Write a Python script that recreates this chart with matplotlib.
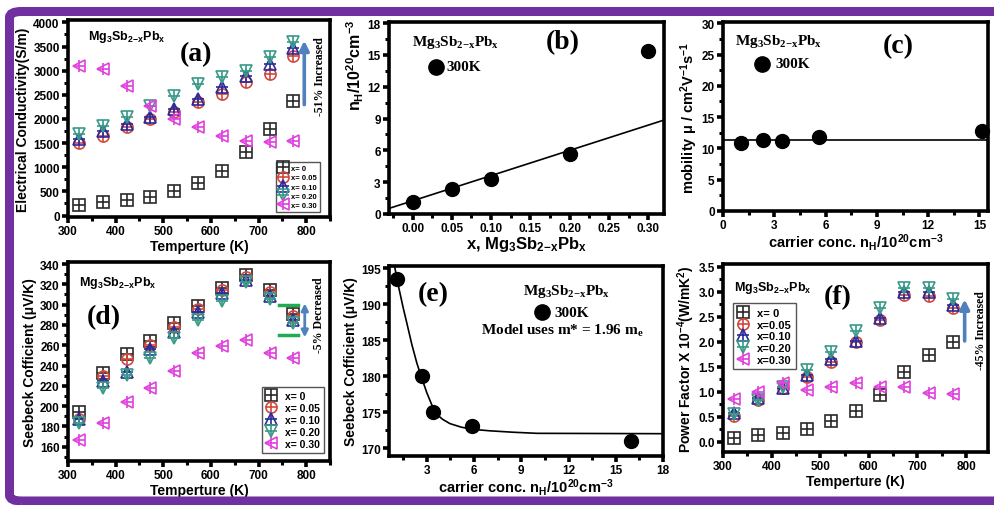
import numpy as np
import matplotlib
matplotlib.use("Agg")
import matplotlib.pyplot as plt
from matplotlib.patches import FancyBboxPatch
from matplotlib.legend_handler import HandlerTuple
from matplotlib.ticker import MultipleLocator, FormatStrFormatter

plt.rcParams['font.family'] = ['Liberation Sans', 'DejaVu Sans']
plt.rcParams['font.weight'] = 'bold'
plt.rcParams['axes.labelweight'] = 'bold'
plt.rcParams['mathtext.default'] = 'regular'

W, H = 995, 506

# ---- data ----
temps = [323, 373, 423, 473, 523, 573, 623, 673, 723, 773]
series_labels = ['x= 0', 'x= 0.05', 'x= 0.10', 'x= 0.20', 'x= 0.30']
pf_labels = ['x= 0', 'x=0.05', 'x=0.10', 'x=0.20', 'x=0.30']

sigma_x000 = [210, 276, 324, 380, 503, 669, 931, 1310, 1793, 2380]
sigma_x005 = [1500, 1655, 1828, 2000, 2138, 2345, 2517, 2760, 2931, 3310]
sigma_x010 = [1586, 1759, 1897, 2034, 2207, 2414, 2655, 2897, 3138, 3470]
sigma_x020 = [1690, 1862, 2034, 2276, 2483, 2724, 2862, 3000, 3276, 3600]
sigma_x030 = [3103, 3034, 2690, 2276, 2000, 1828, 1655, 1552, 1531, 1552]

seebeck_x000 = [194, 233, 251, 264, 282, 299, 316, 329, 314, 291]
seebeck_x005 = [187.5, 230, 246, 260.5, 278, 296, 314, 327, 312, 289]
seebeck_x010 = [187, 225, 234, 256, 273.5, 293, 311, 324, 309, 285]
seebeck_x020 = [183, 218, 231, 247.5, 267, 285, 304, 322, 306, 282]
seebeck_x030 = [166.5, 183, 204, 218, 235, 252, 259.5, 265.5, 252.5, 247.5]

pf_x000 = [0.07, 0.13, 0.18, 0.26, 0.41, 0.61, 0.94, 1.40, 1.74, 1.99]
pf_x005 = [0.51, 0.84, 1.07, 1.30, 1.60, 1.99, 2.43, 2.94, 2.91, 2.68]
pf_x010 = [0.58, 0.87, 1.07, 1.33, 1.66, 2.02, 2.48, 3.00, 3.00, 2.74]
pf_x020 = [0.56, 0.84, 1.10, 1.43, 1.79, 2.22, 2.68, 3.07, 3.07, 2.86]
pf_x030 = [0.85, 1.00, 1.17, 1.04, 1.10, 1.17, 1.10, 1.10, 0.97, 0.96]

# (b) carrier concentration vs Pb content
pb_content = [0.00, 0.05, 0.10, 0.20, 0.30]
nH_b = [1.1, 2.35, 3.3, 5.7, 15.4]
nH_fit_slope = 23.8
nH_fit_icpt = 1.24

# (c) mobility vs carrier concentration
nH_c = [1.05, 2.32, 3.46, 5.62, 15.13]
mobility = [10.9, 11.3, 11.2, 11.8, 12.75]
mobility_fit = 11.35

# (e) Seebeck vs carrier concentration, with model curve
nH_e = [1.1, 2.68, 3.42, 5.84, 15.95]
seebeck_e = [193.5, 180.0, 175.05, 173.0, 171.0]
model_n = [0.95, 1.2, 1.5, 1.74, 2.05, 2.37, 2.7, 3.0, 3.3, 3.63, 4.0,
           4.47, 5.2, 5.95, 7.0, 8.5, 10.0, 18.0]
model_s = [195.3, 192.5, 189.5, 187.3, 184.4, 181.8, 179.6, 177.7, 176.1,
           174.7, 174.0, 173.4, 172.9, 172.6, 172.4, 172.2, 172.05, 172.0]

colors = ['#2a2a2a', '#d2483c', '#2a2a9a', '#3a9a88', '#e040dd']
markers = ['s', 'o', '^', 'v', '<']
msizes = [8, 8, 9, 9, 9]

PURPLE = '#7030a0'
ARROW = '#4f81bd'
SERIF = ['Liberation Serif', 'DejaVu Serif']


def px_axes(fig, left, top, right, bottom):
    return fig.add_axes([left / W, 1 - bottom / H, (right - left) / W, (bottom - top) / H])


def style_axes(ax, xmaj, xmin, ymaj, ymin):
    for s in ax.spines.values():
        s.set_linewidth(2.6)
    ax.xaxis.set_major_locator(MultipleLocator(xmaj))
    ax.xaxis.set_minor_locator(MultipleLocator(xmin))
    ax.yaxis.set_major_locator(MultipleLocator(ymaj))
    ax.yaxis.set_minor_locator(MultipleLocator(ymin))
    ax.tick_params(which='major', direction='out', length=4, width=2.6,
                   labelsize=8.5, pad=2)
    ax.tick_params(which='minor', direction='out', length=3, width=2.2)
    ax.tick_params(which='both', top=False, right=False)


def plot_series(ax, ys_list, labels, legend_kw):
    handles = []
    for ys, c, m, ms in zip(ys_list, colors, markers, msizes):
        l1, = ax.plot(temps, ys, linestyle='none', marker=m, ms=ms, mfc='none',
                      mec=c, mew=1.2)
        l2, = ax.plot(temps, ys, linestyle='none', marker='+', ms=ms, mec=c, mew=1.2)
        handles.append((l1, l2))
    leg = ax.legend(handles, labels, handler_map={tuple: HandlerTuple(ndivide=1)},
                    numpoints=1, fancybox=False, framealpha=1, **legend_kw)
    leg.get_frame().set_edgecolor('#555555')
    leg.get_frame().set_linewidth(1.0)
    return leg


def serif_text(ax, x, y, s, size, **kw):
    ax.text(x, y, s, fontsize=size, fontweight='bold', family=SERIF,
            transform=kw.pop('transform', ax.transAxes), **kw)


def dot_label(ax, x, y, label_x, size=11):
    ax.plot([x], [y], 'o', ms=11, color='black', transform=ax.transAxes, clip_on=False)
    serif_text(ax, label_x, y, '300K', size, va='center')


compound = r'Mg$_3$Sb$_{2{-}x}$Pb$_x$'
fig = plt.figure(figsize=(W / 100, H / 100), dpi=100)

# purple frame
frame = FancyBboxPatch((9.5 / W, 4.0 / H), 1.05, (502 - 8.5 - 4.0) / H,
                       boxstyle='round,pad=0,rounding_size=0.012',
                       transform=fig.transFigure, fill=False,
                       edgecolor=PURPLE, linewidth=6.5)
fig.patches.append(frame)

# ---- (a) electrical conductivity ----
ax = px_axes(fig, 68, 21, 330, 218)
style_axes(ax, 100, 50, 500, 250)
plot_series(ax, [sigma_x000, sigma_x005, sigma_x010, sigma_x020, sigma_x030],
            series_labels,
            dict(loc='upper left', bbox_to_anchor=(0.78, 0.30), fontsize=5.5,
                 handlelength=1.0, handletextpad=0.6, labelspacing=0.25,
                 borderpad=0.4))
ax.set_xlim(300, 850)
ax.set_ylim(-30, 4050)
ax.set_xlabel('Temperture (K)', fontsize=10, labelpad=1)
ax.set_ylabel('Electrical Conductivity(S/m)', fontsize=10, labelpad=2)
ax.text(0.076, 0.92, compound, transform=ax.transAxes, fontsize=9, va='center')
serif_text(ax, 0.49, 0.83, '(a)', 20, ha='center', va='center')
ax.annotate('', xy=(796, 3680), xytext=(796, 2240),
            arrowprops=dict(arrowstyle='-|>', lw=2.6, color=ARROW, mutation_scale=14))
serif_text(ax, 828, 2900, '-51% Increased', 8.5, rotation=90, ha='center',
           va='center', transform=ax.transData)

# ---- (b) carrier concentration vs x ----
ax = px_axes(fig, 389, 23, 664, 215)
style_axes(ax, 0.05, 0.025, 3, 1.5)
ax.set_xlim(-0.03, 0.32)
ax.set_ylim(0, 18.1)
xs = np.array(ax.get_xlim())
ax.plot(xs, nH_fit_slope * xs + nH_fit_icpt, color='black', lw=1.2)
ax.plot(pb_content, nH_b, 'o', ms=10, color='black')
ax.xaxis.set_major_formatter(FormatStrFormatter('%.2f'))
ax.set_xlabel(r'x, Mg$_3$Sb$_{2{-}x}$Pb$_x$', fontsize=12, labelpad=0)
ax.set_ylabel(r'n$_H$/10$^{20}$cm$^{-3}$', fontsize=11.5)
ax.yaxis.set_label_coords(-0.085, 0.78)
serif_text(ax, 0.084, 0.90, compound, 11, va='center')
dot_label(ax, 0.17, 0.766, 0.21)
serif_text(ax, 0.633, 0.90, '(b)', 20, ha='center', va='center')

# ---- (c) mobility ----
ax = px_axes(fig, 723, 23, 988, 212)
style_axes(ax, 3, 1.5, 5, 2.5)
ax.set_xlim(0, 15.5)
ax.set_ylim(0, 30.2)
ax.axhline(mobility_fit, color='black', lw=1.2)
ax.plot(nH_c, mobility, 'o', ms=10, color='black', clip_on=False)
ax.set_xlabel(r'carrier conc. n$_H$/10$^{20}$cm$^{-3}$', fontsize=10.5, labelpad=0)
ax.set_ylabel(r'mobility μ / cm$^2$V$^{-1}$s$^{-1}$', fontsize=10.5, labelpad=1)
serif_text(ax, 0.045, 0.90, compound, 11, va='center')
dot_label(ax, 0.147, 0.778, 0.196)
serif_text(ax, 0.66, 0.873, '(c)', 20, ha='center', va='center')

# ---- (d) Seebeck vs T ----
ax = px_axes(fig, 68, 263, 330, 462)
style_axes(ax, 100, 50, 20, 10)
plot_series(ax, [seebeck_x000, seebeck_x005, seebeck_x010, seebeck_x020, seebeck_x030],
            series_labels,
            dict(loc='upper left', bbox_to_anchor=(0.72, 0.40), fontsize=7.5,
                 handlelength=1.0, handletextpad=0.8, labelspacing=0.2,
                 borderpad=0.4))
ax.set_xlim(300, 850)
ax.set_ylim(146, 342)
ax.set_xlabel('Temperture (K)', fontsize=10, labelpad=1)
ax.set_ylabel('Seebeck Cofficient (μV/K)', fontsize=10, labelpad=2)
ax.text(0.042, 0.90, compound, transform=ax.transAxes, fontsize=9, va='center')
serif_text(ax, 0.137, 0.724, '(d)', 20, ha='center', va='center')
ax.plot([743, 783], [299.5, 299.5], color='#22aa55', lw=2.5)
ax.plot([743, 783], [270, 270], color='#22aa55', lw=2.5)
ax.annotate('', xy=(797, 304), xytext=(797, 265),
            arrowprops=dict(arrowstyle='<|-|>', lw=2.0, color=ARROW, mutation_scale=10))
serif_text(ax, 826, 291, '-5% Decreased', 8.5, rotation=90, ha='center',
           va='center', transform=ax.transData)

# ---- (e) Seebeck vs carrier concentration ----
ax = px_axes(fig, 389, 267, 663, 457)
style_axes(ax, 3, 1.5, 5, 2.5)
ax.set_xlim(0.6, 18)
ax.set_ylim(168.9, 195.3)
ax.plot(model_n, model_s, color='black', lw=1.2)
ax.plot(nH_e, seebeck_e, 'o', ms=10, color='black', clip_on=False)
ax.set_xlabel(r'carrier conc. n$_H$/10$^{20}$cm$^{-3}$', fontsize=10.5, labelpad=0)
ax.set_ylabel('Seebeck Cofficient (μV/K)', fontsize=10, labelpad=2)
serif_text(ax, 11.9, 191.9, compound, 11, ha='center', va='center',
           transform=ax.transData)
ax.plot([10.3], [188.9], 'o', ms=11, color='black')
serif_text(ax, 11.1, 188.9, '300K', 11, va='center', transform=ax.transData)
serif_text(ax, 11.6, 186.4, r'Model uses m* = 1.96 m$_e$', 11, ha='center',
           va='center', transform=ax.transData)
serif_text(ax, 3.4, 191.4, '(e)', 20, ha='center', va='center', transform=ax.transData)

# ---- (f) power factor ----
ax = px_axes(fig, 723, 265, 988, 453)
style_axes(ax, 100, 50, 0.5, 0.25)
plot_series(ax, [pf_x000, pf_x005, pf_x010, pf_x020, pf_x030], pf_labels,
            dict(loc='upper left', bbox_to_anchor=(0.015, 0.82), fontsize=8,
                 handlelength=1.0, handletextpad=0.8, labelspacing=0.15,
                 borderpad=0.4))
ax.set_xlim(300, 845)
ax.set_ylim(-0.2, 3.55)
ax.yaxis.set_major_formatter(FormatStrFormatter('%.1f'))
ax.set_xlabel('Temperture (K)', fontsize=10, labelpad=1)
ax.set_ylabel(r'Power Factor X 10$^{-4}$(W/mK$^2$)', fontsize=10, labelpad=1)
ax.text(0.04, 0.88, compound, transform=ax.transAxes, fontsize=9, va='center')
serif_text(ax, 0.434, 0.824, '(f)', 20, ha='center', va='center')
ax.annotate('', xy=(797, 2.9), xytext=(797, 1.96),
            arrowprops=dict(arrowstyle='-|>', lw=2.6, color=ARROW, mutation_scale=14))
serif_text(ax, 830, 2.25, '-45% Increased', 8.5, rotation=90, ha='center',
           va='center', transform=ax.transData)

fig.savefig('out.png', dpi=100)
